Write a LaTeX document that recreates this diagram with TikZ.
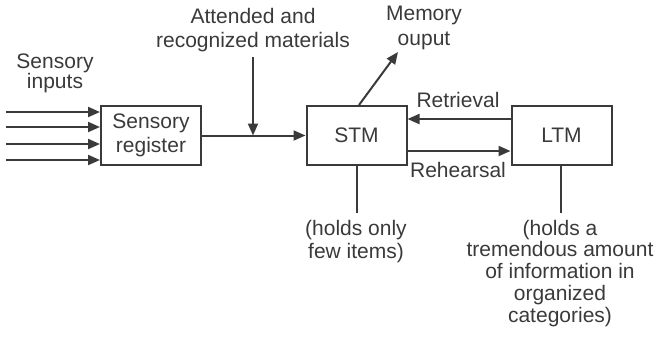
\documentclass[tikz,border=0pt]{standalone}
\usepackage{fontspec}
\setmainfont{Liberation Sans}
\usetikzlibrary{arrows.meta}
\definecolor{ink}{HTML}{3A3A3A}
\begin{document}
\begin{tikzpicture}[x=1pt,y=-1pt,
  box/.style={draw=ink, line width=2pt, minimum width=100pt, minimum height=59pt, inner sep=0pt, align=center, text=ink, font=\fontsize{21}{24}\selectfont},
  lbl/.style={inner sep=0pt, align=center, text=ink, anchor=base},
  arr/.style={draw=ink, line width=2pt, -{Triangle[length=12pt,width=10pt]}},
  ln/.style={draw=ink, line width=2pt}]
\useasboundingbox (0,0) rectangle (658,338);
% boxes
\node[box] (reg) at (151,135.5) {Sensory\\register};
\node[box] (stm) at (356.5,135.5) {STM};
\node[box] (ltm) at (561.5,135.5) {LTM};
% labels (base anchor = baseline of last line)
\node[lbl, font=\fontsize{21}{20}\selectfont] (inp) at (55,88) {Sensory\\inputs};
\node[lbl, font=\fontsize{21}{24}\selectfont] (att) at (253,47) {Attended and\\recognized materials};
\node[lbl, font=\fontsize{21}{25}\selectfont] (mem) at (424,45) {Memory\\ouput};
\node[lbl, font=\fontsize{21}{24}\selectfont] (ret) at (458,107) {Retrieval};
\node[lbl, font=\fontsize{21}{24}\selectfont] (reh) at (458,177) {Rehearsal};
\node[lbl, font=\fontsize{21}{23}\selectfont] (few) at (356,258) {(holds only\\few items)};
\node[lbl, font=\fontsize{21}{21.75}\selectfont] (tre) at (560,322) {(holds a\\tremendous amount\\of information in\\organized\\categories)};
% input arrows
\coordinate (i1) at (6,112);
\coordinate (i2) at (6,127);
\coordinate (i3) at (6,144);
\coordinate (i4) at (6,160);
\foreach \i in {i1,i2,i3,i4} \draw[arr] (\i) -- (\i -| reg.west);
% register to STM
\draw[arr] (reg.east) -- (stm.west);
% attended arrow
\coordinate (a0) at (253,57);
\draw[arr] (a0) -- (a0 |- reg.east);
% memory output
\coordinate (mo) at (398,52);
\draw[arr] ([xshift=2.5pt]stm.north) -- (mo);
% retrieval / rehearsal
\draw[arr] ([yshift=16.5pt]ltm.west) -- ([yshift=16.5pt]stm.east);
\draw[arr] ([yshift=-15.5pt]stm.east) -- ([yshift=-15.5pt]ltm.west);
% drop lines
\coordinate (s1) at (357,213);
\coordinate (l1) at (561,213);
\draw[ln] (s1 |- stm.south) -- (s1);
\draw[ln] (l1 |- ltm.south) -- (l1);
\end{tikzpicture}
\end{document}
